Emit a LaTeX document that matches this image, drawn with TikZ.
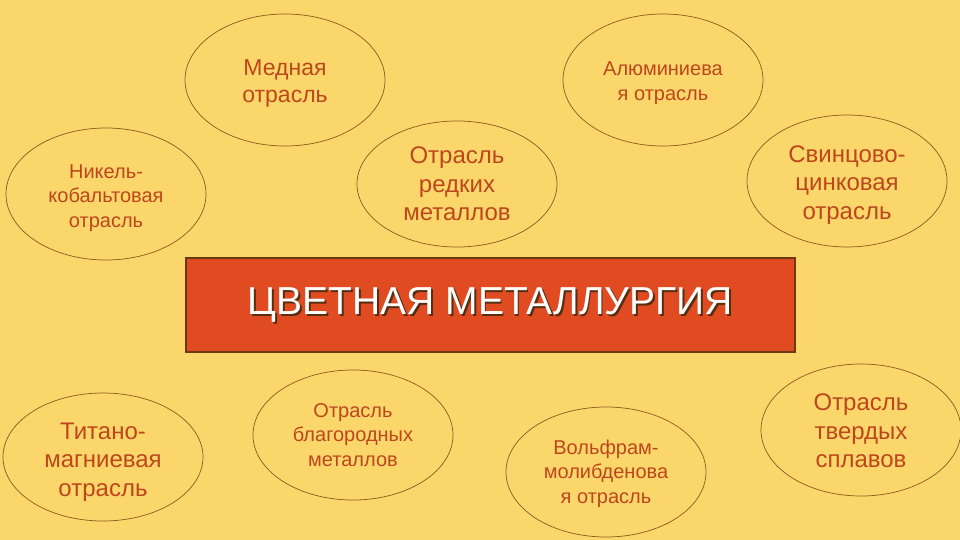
\documentclass[tikz,border=0pt]{standalone}
\usepackage{fontspec}
\setmainfont{Liberation Sans}
\usetikzlibrary{shapes.geometric}
\definecolor{bgyel}{HTML}{FBD76B}
\definecolor{txtred}{HTML}{BE461C}
\definecolor{ellline}{HTML}{8A5A1E}
\definecolor{boxfill}{HTML}{E04B22}
\definecolor{boxline}{HTML}{6B3A14}
\tikzset{
  branch/.style={ellipse, draw=ellline, line width=0.7pt, minimum width=200pt, minimum height=132pt, inner sep=0pt},
  lbl/.style={align=center, text=txtred, inner sep=0pt},
  big/.style={font=\fontsize{24}{28.5}\selectfont},
  small/.style={font=\fontsize{20}{24.5}\selectfont},
}
\begin{document}
\begin{tikzpicture}[x=1pt,y=-1pt]
\fill[bgyel] (0,0) rectangle (960,540);
\useasboundingbox (0,0) rectangle (960,540);
\node[branch] (med) at (285,80) {};
\node[lbl, font=\fontsize{23}{27}\selectfont] (medtext) at (285,83) {Медная\\отрасль};
\node[branch] (alu) at (663,80) {};
\node[lbl, small] (alutext) at (663,83) {Алюминиева\\я отрасль};
\node[branch] (nik) at (106,194) {};
\node[lbl, small] (niktext) at (106,198) {Никель-\\кобальтовая\\отрасль};
\node[branch, minimum height=126pt] (red) at (457,184) {};
\node[lbl, big] (redtext) at (457,184) {Отрасль\\редких\\металлов};
\node[branch] (svi) at (847,181) {};
\node[lbl, big] (svitext) at (847,185) {Свинцово-\\цинковая\\отрасль};
\node[draw=boxline, line width=1.2pt, fill=boxfill, minimum width=609pt, minimum height=94pt, inner sep=0pt] (main) at (490.5,305) {};
\node[text=boxline!80!black, font=\fontsize{39}{44}\selectfont] (mainshadow) at (492,306.5) {ЦВЕТНАЯ МЕТАЛЛУРГИЯ};
\node[text=white, font=\fontsize{39}{44}\selectfont] (maintext) at (490.5,305) {ЦВЕТНАЯ МЕТАЛЛУРГИЯ};
\node[branch, minimum height=128pt] (tit) at (103,457) {};
\node[lbl, big] (tittext) at (103,462) {Титано-\\магниевая\\отрасль};
\node[branch, minimum height=130pt] (bla) at (353,435) {};
\node[lbl, small] (blatext) at (353,435) {Отрасль\\благородных\\металлов};
\node[branch, minimum height=130pt] (vol) at (606,472) {};
\node[lbl, small] (voltext) at (606,473.5) {Вольфрам-\\молибденова\\я отрасль};
\node[branch] (tve) at (861,430) {};
\node[lbl, big] (tvetext) at (861,431) {Отрасль\\твердых\\сплавов};
\end{tikzpicture}
\end{document}
